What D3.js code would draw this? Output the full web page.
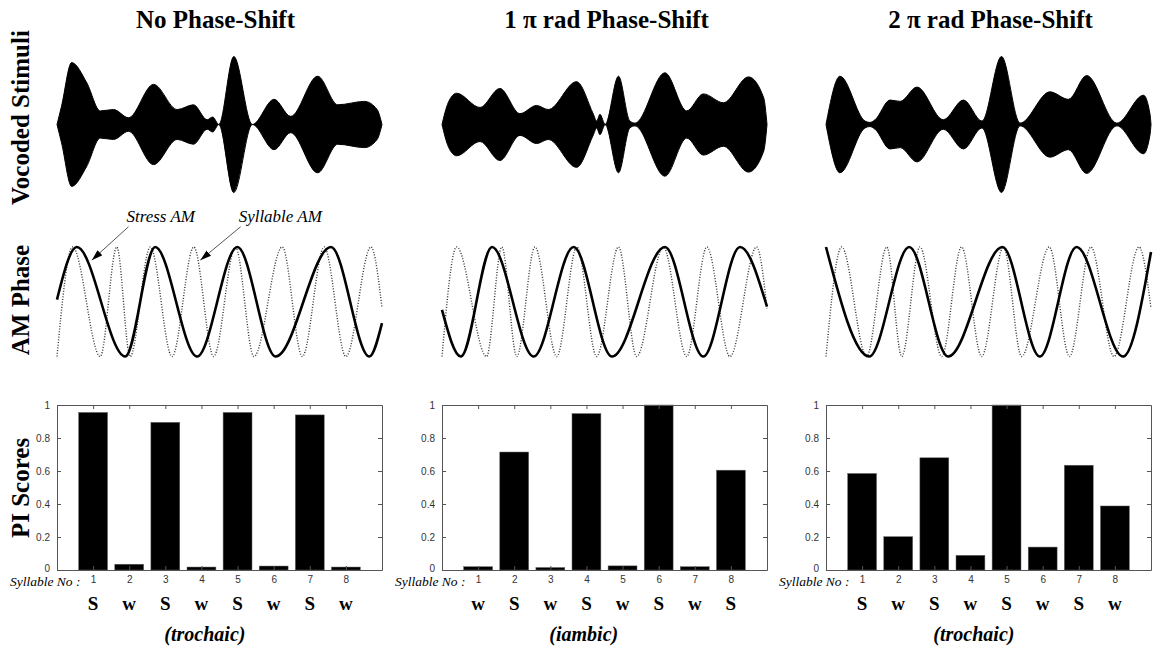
<!DOCTYPE html>
<html>
<head>
<meta charset="utf-8">
<script src="https://cdn.jsdelivr.net/npm/d3@7"></script>
<style>
  body { margin: 0; background: #fff; }
  svg { display: block; }
  .serif { font-family: "Liberation Serif", "Times New Roman", serif; fill: #000; }
  .tick text { font-family: "Liberation Sans", Arial, sans-serif; font-size: 10px; fill: #333; }
  .tick line, .domain { stroke: #555; }
</style>
</head>
<body>
<div id="fig"></div>
<script>
const FRAME_WIDTH = 1153;
const FRAME_HEIGHT = 649;

// ---- data ----
const TITLES = ["No Phase-Shift", "1 \u03c0 rad Phase-Shift", "2 \u03c0 rad Phase-Shift"];
const PATTERNS = ["(trochaic)", "(iambic)", "(trochaic)"];
const ROW_LABELS = ["Vocoded Stimuli", "AM Phase", "PI Scores"];

const SYLLABLES = [1, 2, 3, 4, 5, 6, 7, 8];
const STRESS_1 = ["S", "w", "S", "w", "S", "w", "S", "w"];
const STRESS_2 = ["w", "S", "w", "S", "w", "S", "w", "S"];
const STRESS_3 = ["S", "w", "S", "w", "S", "w", "S", "w"];

const PI_1 = [0.955, 0.035, 0.895, 0.018, 0.955, 0.024, 0.94, 0.018];
const PI_2 = [0.02, 0.715, 0.015, 0.948, 0.025, 1.0, 0.02, 0.605];
const PI_3 = [0.585, 0.202, 0.68, 0.089, 1.0, 0.139, 0.635, 0.388];
const PI_TICKS = [0, 0.2, 0.4, 0.6, 0.8, 1];

// vocoded stimulus envelope: time (fraction of stimulus), amplitude (of max)
const ENV_T_1 = [0, .014, .045, .092, .133, .174, .22, .297, .37, .42, .462, .479, .498, .544, .601, .668, .719, .802, .864, .946, .985, 1];
const ENV_A_1 = [0, .27, .91, .61, .20, .22, .10, .59, .22, .29, .07, .11, 0, 1.0, 0, .37, .12, .71, .29, .34, .22, 0];
const ENV_T_2 = [0, .019, .045, .117, .178, .24, .291, .327, .414, .466, .476, .486, .502, .543, .578, .594, .686, .753, .804, .866, .943, .99, 1];
const ENV_A_2 = [0, .32, .46, .25, .53, .16, .28, .22, .63, .15, .05, .15, 0, .71, .05, .02, .76, .20, .45, .32, .70, .39, 0];
const ENV_T_3 = [0, .043, .12, .135, .151, .197, .228, .28, .361, .423, .48, .54, .597, .689, .746, .802, .895, .977, .997, 1];
const ENV_A_3 = [0, .71, .05, .03, .07, .36, .34, .55, .07, .36, .05, 1.0, .02, .48, .37, .72, .02, .43, .15, 0];

// AM phase: turning points of stress AM (solid) and syllable AM (dotted)
const STRESS_T_1 = [0, .061, .210, .302, .431, .555, .673, .843, .961, 1];
const STRESS_V_1 = [0.04, 1, -1, 1, -1, 1, -1, 1, -1, -0.39];
const STRESS_T_2 = [0, .058, .154, .282, .405, .523, .686, .804, .917, 1];
const STRESS_V_2 = [-0.15, -1, 1, -1, 1, -1, 1, -1, 1, -0.09];
const STRESS_T_3 = [0, .133, .256, .376, .543, .658, .771, .914, 1];
const STRESS_V_3 = [1, -1, 1, -1, 1, -1, 1, -1, 0.91];
const SYLL_T_1 = [0, .048, .133, .184, .225, .287, .354, .421, .482, .549, .606, .693, .755, .822, .889, .966, 1];
const SYLL_V_1 = [-1, 1, -1, 1, -1, 1, -1, 1, -1, 1, -1, 1, -1, 1, -1, 1, -0.11];
const SYLL_T_2 = [0, .045, .137, .184, .230, .286, .353, .415, .476, .543, .599, .681, .753, .815, .886, .968, 1];
const SYLL_V_2 = [-1, 1, -1, 1, -1, 1, -1, 1, -1, 1, -1, 1, -1, 1, -1, 1, -0.12];
const SYLL_T_3 = [0, .048, .125, .187, .233, .289, .356, .417, .479, .546, .602, .687, .749, .815, .886, .963, 1];
const SYLL_V_3 = [-1, 1, -1, 1, -1, 1, -1, 1, -1, 1, -1, 1, -1, 1, -1, 1, -0.12];

// annotation arrows in the first AM panel (time, value)
const ANNOT_TEXT = ["Stress AM", "Syllable AM"];
const ANNOT_TIP_T = [0.107, 0.441];
const ANNOT_TIP_V = [0.76, 0.76];
const ANNOT_TAIL_T = [0.22, 0.565];
const ANNOT_TAIL_V = [1.37, 1.37];

const STRESS = [STRESS_1, STRESS_2, STRESS_3];
const PI = [PI_1, PI_2, PI_3];
const ENV_T = [ENV_T_1, ENV_T_2, ENV_T_3];
const ENV_A = [ENV_A_1, ENV_A_2, ENV_A_3];
const STRESS_T = [STRESS_T_1, STRESS_T_2, STRESS_T_3];
const STRESS_V = [STRESS_V_1, STRESS_V_2, STRESS_V_3];
const SYLL_T = [SYLL_T_1, SYLL_T_2, SYLL_T_3];
const SYLL_V = [SYLL_V_1, SYLL_V_2, SYLL_V_3];

// ---- layout ----
const COL_LEFT = [57, 442, 826];
const COL_WIDTH = 325;
const WAVE_MID = 124.5, WAVE_AMP = 68;
const AM_TOP = 247, AM_BOTTOM = 356.5;
const BAR_TOP = 405, BAR_BOTTOM = 570;

const FIG = d3.select("#fig")
              .append("svg")
                .attr("width", FRAME_WIDTH)
                .attr("height", FRAME_HEIGHT);

FIG.append("defs").append("marker")
    .attr("id", "arrow")
    .attr("markerUnits", "userSpaceOnUse")
    .attr("markerWidth", 12).attr("markerHeight", 8)
    .attr("refX", 11).attr("refY", 4)
    .attr("orient", "auto")
  .append("path")
    .attr("d", "M0,0.5 L11,4 L0,7.5 Z")
    .attr("fill", "#000");

// row labels on the left
const ROW_Y = [117.5, 300, 488];
ROW_LABELS.forEach((lab, i) => {
  FIG.append("text")
      .attr("class", "serif")
      .attr("transform", "translate(29," + ROW_Y[i] + ") rotate(-90)")
      .attr("text-anchor", "middle")
      .attr("font-size", "25px")
      .attr("font-weight", "bold")
      .text(lab);
});

function drawColumn(c) {
  const left = COL_LEFT[c];
  const T_SCALE = d3.scaleLinear().domain([0, 1]).range([left, left + COL_WIDTH]);

  // title
  FIG.append("text")
      .attr("class", "serif")
      .attr("x", left + COL_WIDTH / 2 + (c == 0 ? -4 : 2))
      .attr("y", 28)
      .attr("text-anchor", "middle")
      .attr("font-size", "25px")
      .attr("font-weight", "bold")
      .text(TITLES[c]);

  // vocoded stimulus (envelope filled)
  const W_SCALE = d3.scaleLinear().domain([-1, 1]).range([WAVE_MID + WAVE_AMP, WAVE_MID - WAVE_AMP]);
  const env = d3.range(ENV_T[c].length).map((k) => ({t: ENV_T[c][k], a: ENV_A[c][k]}));
  FIG.append("path")
      .datum(env)
      .attr("fill", "#000")
      .attr("stroke", "#000")
      .attr("stroke-width", 1)
      .attr("d", d3.area()
                  .curve(d3.curveMonotoneX)
                  .x((d) => T_SCALE(d.t))
                  .y0((d) => W_SCALE(-d.a))
                  .y1((d) => W_SCALE(d.a)));

  // AM phase curves
  const P_SCALE = d3.scaleLinear().domain([-1, 1]).range([AM_BOTTOM, AM_TOP]);
  const line = d3.line()
                 .curve(d3.curveMonotoneX)
                 .x((d) => T_SCALE(d[0]))
                 .y((d) => P_SCALE(d[1]));
  FIG.append("path")
      .datum(d3.zip(SYLL_T[c], SYLL_V[c]))
      .attr("fill", "none")
      .attr("stroke", "#333")
      .attr("stroke-width", 1.4)
      .attr("stroke-dasharray", "1,1.7")
      .attr("d", line);
  FIG.append("path")
      .datum(d3.zip(STRESS_T[c], STRESS_V[c]))
      .attr("fill", "none")
      .attr("stroke", "#000")
      .attr("stroke-width", 2.6)
      .attr("d", line);

  if (c == 0) {
    ANNOT_TEXT.forEach((txt, k) => {
      FIG.append("line")
          .attr("x1", T_SCALE(ANNOT_TAIL_T[k])).attr("y1", P_SCALE(ANNOT_TAIL_V[k]))
          .attr("x2", T_SCALE(ANNOT_TIP_T[k])).attr("y2", P_SCALE(ANNOT_TIP_V[k]))
          .attr("stroke", "#555")
          .attr("stroke-width", 1)
          .attr("marker-end", "url(#arrow)");
      FIG.append("text")
          .attr("class", "serif")
          .attr("x", T_SCALE(ANNOT_TAIL_T[k]) - 2)
          .attr("y", P_SCALE(ANNOT_TAIL_V[k]) - 5)
          .attr("font-size", "17px")
          .attr("font-style", "italic")
          .text(txt);
    });
  }

  // PI score bars
  const X_SCALE = d3.scaleLinear().domain([0, 9]).range([left, left + COL_WIDTH]);
  const Y_SCALE = d3.scaleLinear().domain([0, 1]).range([BAR_BOTTOM, BAR_TOP]);
  const BAR_W = 0.8;

  FIG.selectAll("bars" + c)
      .data(PI[c])
      .enter()
      .append("rect")
        .attr("x", (d, k) => X_SCALE(SYLLABLES[k] - BAR_W / 2))
        .attr("y", (d) => Y_SCALE(d))
        .attr("width", X_SCALE(BAR_W) - X_SCALE(0))
        .attr("height", (d) => BAR_BOTTOM - Y_SCALE(d))
        .attr("fill", "#000")
        .attr("stroke", "#666")
        .attr("stroke-width", 0.5);

  FIG.append("g")
      .attr("transform", "translate(" + left + ",0)")
      .call(d3.axisLeft(Y_SCALE).tickValues(PI_TICKS).tickFormat(d3.format("~g"))
              .tickSizeInner(-4).tickSizeOuter(0).tickPadding(7))
    .selectAll(".tick text")
      .attr("dy", (d) => d == 0 ? "0.1em" : "0.32em");
  FIG.append("g")
      .attr("transform", "translate(" + (left + COL_WIDTH) + ",0)")
      .call(d3.axisRight(Y_SCALE).tickValues(PI_TICKS).tickFormat("")
              .tickSizeInner(-4).tickSizeOuter(0));
  FIG.append("g")
      .attr("transform", "translate(0," + BAR_TOP + ")")
      .call(d3.axisTop(X_SCALE).tickValues(SYLLABLES).tickFormat("")
              .tickSizeInner(-4).tickSizeOuter(0));
  FIG.append("g")
      .attr("transform", "translate(0," + BAR_BOTTOM + ")")
      .call(d3.axisBottom(X_SCALE).tickValues(SYLLABLES)
              .tickSizeInner(-4).tickSizeOuter(0).tickPadding(6));

  FIG.append("text")
      .attr("class", "serif")
      .attr("x", left - 47)
      .attr("y", 585.5)
      .attr("font-size", "13.5px")
      .attr("font-style", "italic")
      .text("Syllable No :");

  FIG.selectAll("stress" + c)
      .data(STRESS[c])
      .enter()
      .append("text")
        .attr("class", "serif")
        .attr("x", (d, k) => X_SCALE(SYLLABLES[k]))
        .attr("y", 610)
        .attr("text-anchor", "middle")
        .attr("font-size", "19px")
        .attr("font-weight", "bold")
        .text((d) => d);

  FIG.append("text")
      .attr("class", "serif")
      .attr("x", X_SCALE(3) - 1)
      .attr("y", 641)
      .attr("font-size", "20px")
      .attr("font-weight", "bold")
      .attr("font-style", "italic")
      .text(PATTERNS[c]);
}

[0, 1, 2].forEach(drawColumn);
</script>
</body>
</html>
